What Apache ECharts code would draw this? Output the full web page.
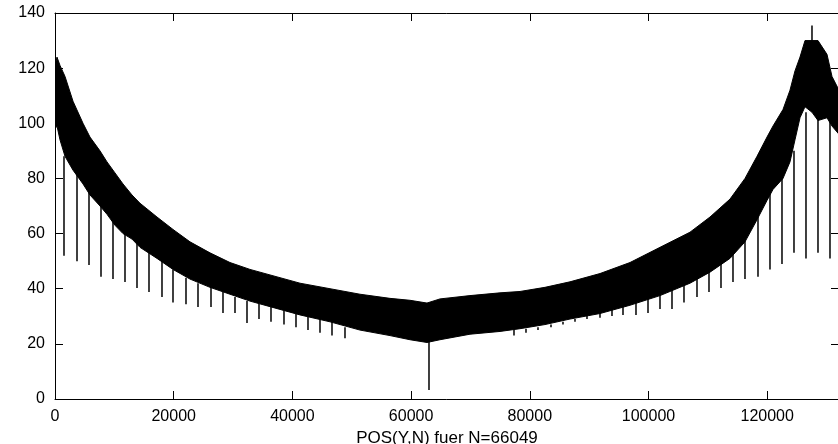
<!DOCTYPE html>
<html><head><meta charset="utf-8">
<script src="https://cdn.jsdelivr.net/npm/echarts@6/dist/echarts.min.js"></script>
<style>html,body{margin:0;padding:0;background:#fff}#c{width:838px;height:444px}</style>
</head><body><div id="c"></div>
<script>
const xTitle = 'POS(Y,N) fuer N=66049';
const xMax = 132098;
const xTickStep = 20000;
const yMax = 140;
const yTickStep = 20;

const bandX = [0,337,842,1685,3033,4718,5897,7582,8761,10109,11457,12974,14322,17186,19882,22746,26116,29486,32855,36225,41280,46335,51390,56444,59814,62678,64869,69924,74978,78348,82560,86772,91827,96882,101936,106991,110361,113731,116258,118280,119965,120976,122661,123840,124683,125525,126368,127547,128558,130074,130917,132098];
const bandUpper = [121,124,121,117,108,100,95,90,86,82,78,74,71,66,61.5,57,53,49.5,47,45,42,40,38,36.5,35.8,34.8,36.3,37.5,38.5,39,40.5,42.5,45.5,49.5,55,60.5,66,72.5,80,88,95,99,105,112,119,124,130,130,130,125,117,112];
const bandLower = [98,99,94,88,83,78,74,70,67,63,60,58,55,51,47,43.5,40.5,38,35.5,33.5,30.5,28,25,23,21.5,20.5,21.5,23.5,24.5,25.5,27,29,31,34,37.5,42,46,51,57,65,72,76,80,86,94,102,106,104,101,102,99,96];

const spikeX = [1516,3707,5729,7751,9772,11794,13816,15838,18028,19882,22072,24094,26285,28306,30328,32350,34372,36394,38584,40606,42628,44650,46672,48862,63015,77337,79359,81381,83571,85593,87615,89637,91827,93849,95703,97893,99916,101936,103959,105980,108171,110193,112215,114236,116258,118449,120470,122492,124514,126536,127547,128558,130580];
const spikeBottom = [52,50,48.6,44.3,43.5,42.4,40.3,38.8,37,35,34.4,33.4,33.4,31.2,31.2,27.6,29,28,27,26,25,24,23,22,3.3,23,24,25,26,27,28,29,29.5,30.1,30.5,30.5,31.2,32.6,32.6,35,37,38.8,40.3,42.4,43.5,44.3,47,49,53,51,128,53,51];
const spikeTop = [88,84,76,71,65,61,57,54,51,47,44,42,41,39,37,35.5,34.5,33.5,32,31,30,29,28,26,21,25,25.5,26,27,28,29,30.5,32,33,34,35,37,39,41,43,45,48,51,55,60,68,76,81,90,104,135.5,102,102];

const FONT = 'Liberation Sans, Arial, Helvetica, sans-serif';
const chart = echarts.init(document.getElementById('c'), null, {renderer: 'canvas'});

const axisLineStyle = {color: '#000', width: 1};
function xAx(pos, labels) {
  return {
    type: 'value', position: pos, min: 0, max: xMax, interval: xTickStep,
    axisLine: {show: true, onZero: false, lineStyle: axisLineStyle},
    axisTick: {show: true, inside: true, length: 8, lineStyle: axisLineStyle},
    axisLabel: {show: labels, color: '#000', fontSize: 16, fontFamily: FONT, margin: 10, showMaxLabel: false,
      formatter: v => String(v)},
    splitLine: {show: false},
    name: labels ? xTitle : '', nameLocation: 'middle', nameGap: 26,
    nameTextStyle: {color: '#000', fontSize: 17, fontFamily: FONT}
  };
}
function yAx(pos, labels) {
  return {
    type: 'value', position: pos, min: 0, max: yMax, interval: yTickStep,
    axisLine: {show: true, onZero: false, lineStyle: axisLineStyle},
    axisTick: {show: true, inside: true, length: 8, lineStyle: axisLineStyle},
    axisLabel: {show: labels, color: '#000', fontSize: 16, fontFamily: FONT, margin: 10},
    splitLine: {show: false}
  };
}

chart.setOption({
  animation: false,
  backgroundColor: '#fff',
  grid: {left: 55, top: 13, width: 784, height: 386, containLabel: false, outerBoundsMode: 'none'},
  xAxis: [xAx('bottom', true), xAx('top', false)],
  yAxis: [yAx('left', true), yAx('right', false)],
  series: [
    {
      type: 'custom', xAxisIndex: 0, yAxisIndex: 0, clip: true,
      data: [[bandX[0], bandLower[0]]],
      renderItem: function (params, api) {
        const pts = [];
        for (let i = 0; i < bandX.length; i++) pts.push(api.coord([bandX[i], bandUpper[i]]));
        for (let i = bandX.length - 1; i >= 0; i--) pts.push(api.coord([bandX[i], bandLower[i]]));
        return {type: 'polygon', shape: {points: pts}, style: {fill: '#000', stroke: '#000', lineWidth: 1}};
      }
    },
    {
      type: 'custom', xAxisIndex: 0, yAxisIndex: 0, clip: true,
      data: spikeX.map((x, i) => [x, spikeBottom[i], spikeTop[i]]),
      renderItem: function (params, api) {
        const a = api.coord([api.value(0), api.value(1)]);
        const b = api.coord([api.value(0), api.value(2)]);
        return {type: 'line', shape: {x1: a[0], y1: a[1], x2: b[0], y2: b[1]}, style: {stroke: '#000', lineWidth: 1.5}};
      }
    }
  ]
});
</script></body></html>
